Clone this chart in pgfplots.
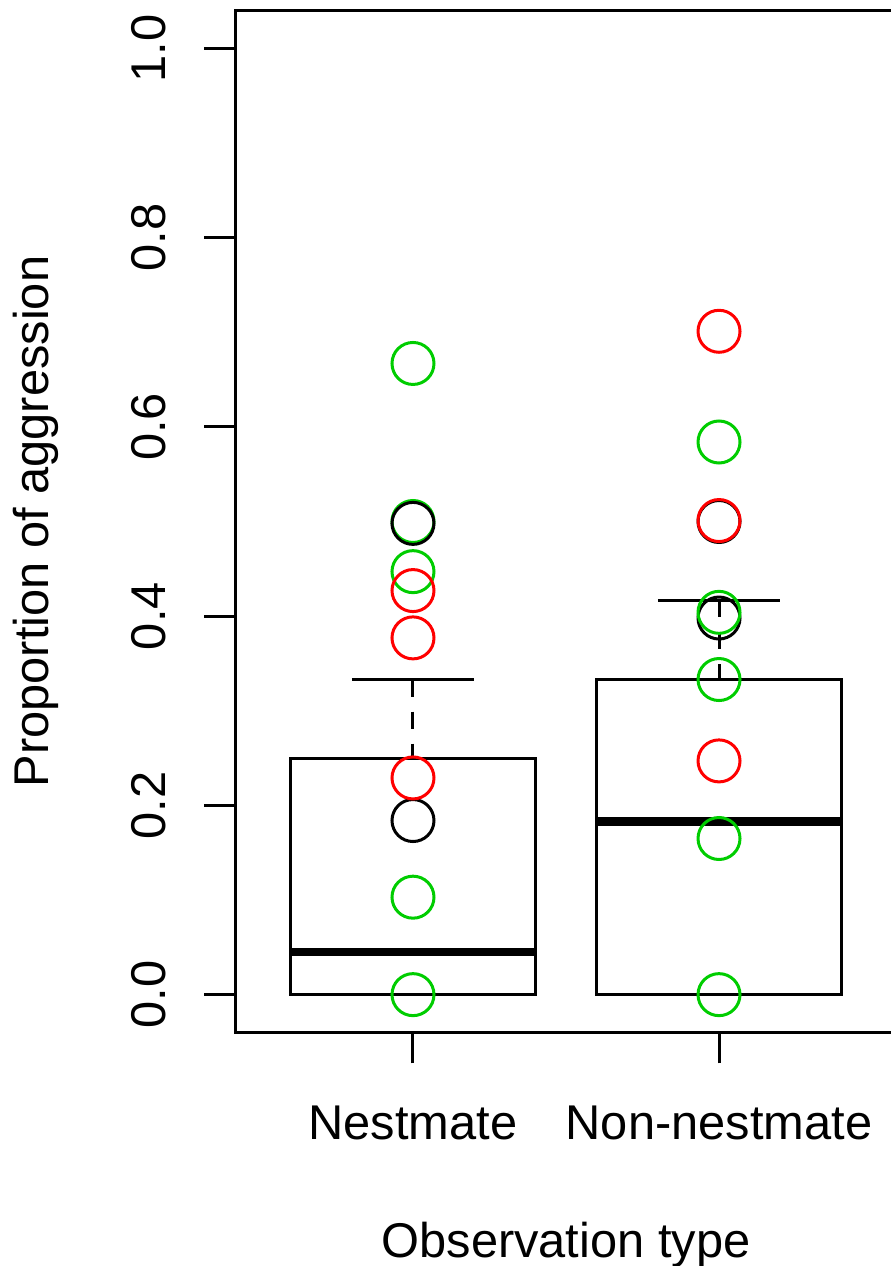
\documentclass[border=0pt]{standalone}
\usepackage{fontspec}
\setmainfont{Liberation Sans}
\usepackage{pgfplots}
\pgfplotsset{compat=1.18}
\definecolor{rgreen}{RGB}{0,205,0}
\definecolor{rred}{RGB}{255,0,0}
\begin{document}
\begin{tikzpicture}
\begin{axis}[name=ax, scale only axis, width=661pt, height=1022pt,
  xmin=0.42, xmax=2.58, ymin=-0.04, ymax=1.04,
  xtick={1,2}, xticklabels={Nestmate,Non-nestmate},
  ytick={0,0.2,0.4,0.6,0.8,1}, yticklabels={0.0,0.2,0.4,0.6,0.8,1.0},
  tick align=outside, major tick length=31pt, tick pos=left,
  axis line style={line width=3pt},
  every tick/.style={black, line width=3pt},
  tick label style={font=\fontsize{48.8}{58}\selectfont},
  label style={font=\fontsize{48.8}{58}\selectfont},
  yticklabel style={rotate=90, anchor=base},
  yticklabel shift=39pt,
  xticklabel style={anchor=base},
  xticklabel shift=75.5pt,
  xlabel={Observation type},
  ylabel={Proportion of aggression},
  xlabel style={at={(axis description cs:0.5,-0.2197)}, anchor=base},
  ylabel style={at={(axis description cs:-0.2829,0.5)}, rotate=0, anchor=base},
]
% Nestmate box
\addplot[black, line width=3pt, mark=none] coordinates {(0.6,0) (1.4,0) (1.4,0.25) (0.6,0.25)} --cycle;
\addplot[black, line width=8.5pt, line cap=butt, mark=none] coordinates {(0.6,0.045) (1.4,0.045)};
\addplot[black, line width=3pt, line cap=butt, dash pattern=on 17pt off 15pt, mark=none] coordinates {(1,0.333) (1,0.25)};
\addplot[black, line width=3pt, mark=none] coordinates {(0.8,0.333) (1.2,0.333)};
% Non-nestmate box
\addplot[black, line width=3pt, mark=none] coordinates {(1.6,0) (2.4,0) (2.4,0.333) (1.6,0.333)} --cycle;
\addplot[black, line width=8.5pt, line cap=butt, mark=none] coordinates {(1.6,0.183) (2.4,0.183)};
\addplot[black, line width=3pt, line cap=butt, dash pattern=on 17pt off 15pt, mark=none] coordinates {(2,0.417) (2,0.333)};
\addplot[black, line width=3pt, mark=none] coordinates {(1.8,0.417) (2.2,0.417)};
% points, nestmate
\addplot[only marks, mark=o, mark size=21pt, rgreen, line width=3pt] coordinates {(1,0.667) (1,0.5) (1,0.447) (1,0.103) (1,0)};
\addplot[only marks, mark=o, mark size=21pt, black, line width=3pt] coordinates {(1,0.498) (1,0.184)};
\addplot[only marks, mark=o, mark size=21pt, rred, line width=3pt] coordinates {(1,0.427) (1,0.377) (1,0.229)};
% points, non-nestmate
\addplot[only marks, mark=o, mark size=21pt, black, line width=3pt] coordinates {(2,0.5) (2,0.398)};
\addplot[only marks, mark=o, mark size=21pt, rgreen, line width=3pt] coordinates {(2,0.584) (2,0.404) (2,0.333) (2,0.165) (2,0)};
\addplot[only marks, mark=o, mark size=21pt, rred, line width=3pt] coordinates {(2,0.701) (2,0.501) (2,0.247)};
\end{axis}
\pgfresetboundingbox
\path[use as bounding box] ([xshift=-235.5pt,yshift=-233.5pt]ax.south west) rectangle ([xshift=-6.5pt,yshift=10.5pt]ax.north east);
\end{tikzpicture}
\end{document}
